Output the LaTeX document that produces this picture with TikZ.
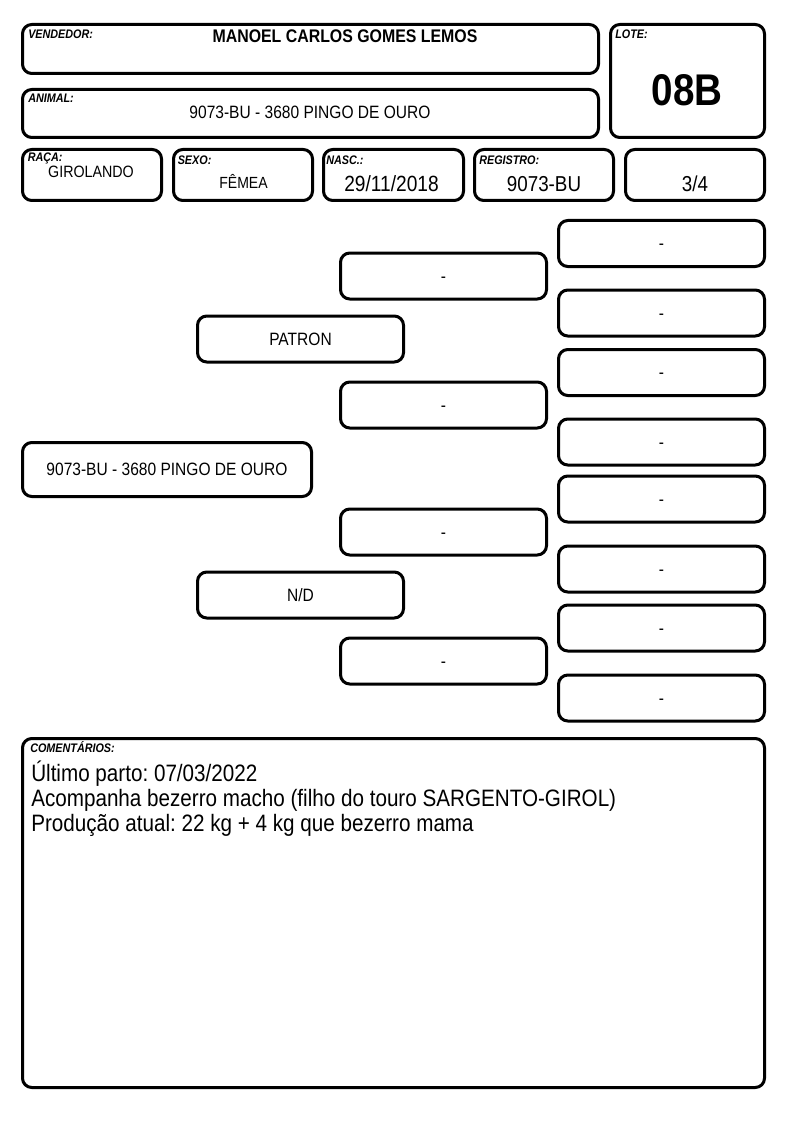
\documentclass[tikz,border=0pt]{standalone}
\usepackage{fontspec}
\setmainfont{Liberation Sans}[FakeStretch=0.87]
\usetikzlibrary{positioning}
\frenchspacing

\begin{document}
\begin{tikzpicture}[x=0.75pt,y=-0.75pt,
    caixa/.style 2 args={draw,rounded corners=7pt,line width=2.25pt,inner sep=0pt,outer sep=0pt,minimum width=#1,minimum height=#2},
    ped/.style={caixa={154.5pt}{34.5pt},font=\fontsize{13.4}{16}\selectfont,text height=9.6pt,text depth=0pt},
    rotulo/.style={anchor=base west,inner sep=0pt,font=\fontsize{9.3}{11}\selectfont\bfseries\itshape},
    valor/.style={anchor=base,inner sep=0pt,font=\fontsize{#1}{#1}\selectfont}]
    \useasboundingbox (0,0) rectangle (794,1123);

    % Header: vendedor / lote / animal
    \node[caixa={432pt}{36.75pt}] (vend) at (310.5,49) {};
    \node[rotulo] (lvend) at (28,39) {VENDEDOR:};
    \node[valor=13.7] (tvend) at (345,43) {\bfseries MANOEL CARLOS GOMES LEMOS};

    \node[caixa={115.5pt}{84.75pt}] (lote) at (687.5,81) {};
    \node[rotulo] (llote) at (615,39) {LOTE:};
    \node[valor=33.3] (tlote) at (687,106) {\bfseries 08B};

    \node[caixa={432pt}{36pt}] (anim) at (310.5,113.5) {};
    \node[rotulo] (lanim) at (28,102.5) {ANIMAL:};
    \node[valor=13.4] (tanim) at (310,119) {9073-BU - 3680 PINGO DE OURO};

    % Row of small boxes
    \node[caixa={104.25pt}{38.25pt}] (raca) at (92,175) {};
    \node[rotulo] (lraca) at (27.5,161.5) {RAÇA:};
    \node[valor=12.3] (traca) at (91,178) {GIROLANDO};

    \node[caixa={104.25pt}{38.25pt}] (sexo) at (243,175) {};
    \node[rotulo] (lsexo) at (177.5,165) {SEXO:};
    \node[valor=12.1] (tsexo) at (243.5,189) {FÊMEA};

    \node[caixa={105pt}{38.25pt}] (nasc) at (393.5,175) {};
    \node[rotulo] (lnasc) at (326,165) {NASC.:};
    \node[valor=16.5] (tnasc) at (391.5,192) {29/11/2018};

    \node[caixa={104.25pt}{38.25pt}] (reg) at (544,175) {};
    \node[rotulo] (lreg) at (479,165) {REGISTRO:};
    \node[valor=16.2] (treg) at (544,192) {9073-BU};

    \node[caixa={104.25pt}{38.25pt}] (grau) at (695,175) {};
    \node[valor=16.2] (tgrau) at (695,192) {3/4};

    % Pedigree: animal
    \node[caixa={216.75pt}{40.5pt},font=\fontsize{13.4}{16}\selectfont,text height=9.6pt,text depth=0pt] (nA) at (167,469.5) {9073-BU - 3680 PINGO DE OURO};

    % Pais
    \node[ped] (nP) at (300.5,339) {PATRON};
    \node[ped] (nM) at (300.5,595) {N/D};

    % Avos
    \node[ped] (nPP) at (443.5,276) {-};
    \node[ped] (nPM) at (443.5,405) {-};
    \node[ped] (nMP) at (443.5,532) {-};
    \node[ped] (nMM) at (443.5,661) {-};

    % Bisavos
    \node[ped] (nPPP) at (661.5,243.5) {-};
    \node[ped] (nPPM) at (661.5,313) {-};
    \node[ped] (nPMP) at (661.5,372.5) {-};
    \node[ped] (nPMM) at (661.5,442) {-};
    \node[ped] (nMPP) at (661.5,499) {-};
    \node[ped] (nMPM) at (661.5,569) {-};
    \node[ped] (nMMP) at (661.5,628) {-};
    \node[ped] (nMMM) at (661.5,698) {-};

    % Comentarios
    \node[caixa={556.5pt}{261.75pt}] (coment) at (393.5,913) {};
    \node[rotulo] (lcoment) at (30,752) {COMENTÁRIOS:};
    \node[valor=17.8,anchor=base west] (c1) at (31,781) {Último parto: 07/03/2022};
    \node[valor=17.8,anchor=base west] (c2) at (31,806) {Acompanha bezerro macho (filho do touro SARGENTO-GIROL)};
    \node[valor=17.8,anchor=base west] (c3) at (31,831) {Produção atual: 22 kg + 4 kg que bezerro mama};
\end{tikzpicture}
\end{document}
